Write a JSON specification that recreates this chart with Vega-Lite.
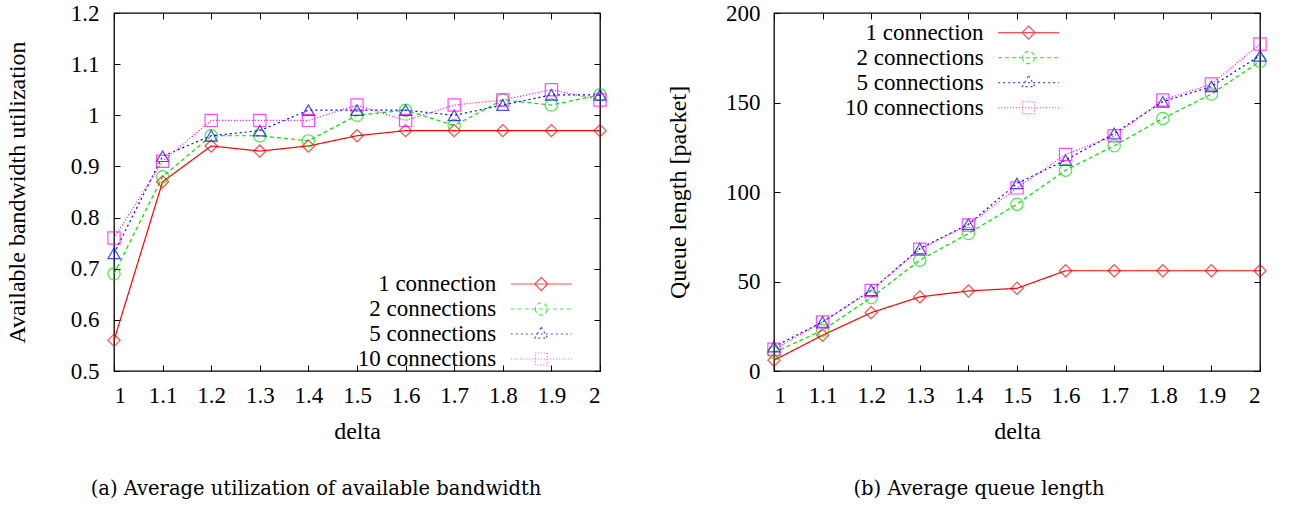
{
  "$schema": "https://vega.github.io/schema/vega-lite/v6.json",
  "background": "white",
  "padding": {"left": 4, "top": 1, "right": 0, "bottom": 0},
  "spacing": 174,
  "bounds": "flush",
  "datasets": {
    "util": [
      {"delta": 1.0, "series": "1 connection", "v": 0.56},
      {"delta": 1.1, "series": "1 connection", "v": 0.87},
      {"delta": 1.2, "series": "1 connection", "v": 0.94},
      {"delta": 1.3, "series": "1 connection", "v": 0.93},
      {"delta": 1.4, "series": "1 connection", "v": 0.94},
      {"delta": 1.5, "series": "1 connection", "v": 0.96},
      {"delta": 1.6, "series": "1 connection", "v": 0.97},
      {"delta": 1.7, "series": "1 connection", "v": 0.97},
      {"delta": 1.8, "series": "1 connection", "v": 0.97},
      {"delta": 1.9, "series": "1 connection", "v": 0.97},
      {"delta": 2.0, "series": "1 connection", "v": 0.97},
      {"delta": 1.0, "series": "2 connections", "v": 0.69},
      {"delta": 1.1, "series": "2 connections", "v": 0.88},
      {"delta": 1.2, "series": "2 connections", "v": 0.96},
      {"delta": 1.3, "series": "2 connections", "v": 0.96},
      {"delta": 1.4, "series": "2 connections", "v": 0.95},
      {"delta": 1.5, "series": "2 connections", "v": 1.00},
      {"delta": 1.6, "series": "2 connections", "v": 1.01},
      {"delta": 1.7, "series": "2 connections", "v": 0.98},
      {"delta": 1.8, "series": "2 connections", "v": 1.03},
      {"delta": 1.9, "series": "2 connections", "v": 1.02},
      {"delta": 2.0, "series": "2 connections", "v": 1.04},
      {"delta": 1.0, "series": "5 connections", "v": 0.73},
      {"delta": 1.1, "series": "5 connections", "v": 0.92},
      {"delta": 1.2, "series": "5 connections", "v": 0.96},
      {"delta": 1.3, "series": "5 connections", "v": 0.97},
      {"delta": 1.4, "series": "5 connections", "v": 1.01},
      {"delta": 1.5, "series": "5 connections", "v": 1.01},
      {"delta": 1.6, "series": "5 connections", "v": 1.01},
      {"delta": 1.7, "series": "5 connections", "v": 1.00},
      {"delta": 1.8, "series": "5 connections", "v": 1.02},
      {"delta": 1.9, "series": "5 connections", "v": 1.04},
      {"delta": 2.0, "series": "5 connections", "v": 1.04},
      {"delta": 1.0, "series": "10 connections", "v": 0.76},
      {"delta": 1.1, "series": "10 connections", "v": 0.91},
      {"delta": 1.2, "series": "10 connections", "v": 0.99},
      {"delta": 1.3, "series": "10 connections", "v": 0.99},
      {"delta": 1.4, "series": "10 connections", "v": 0.99},
      {"delta": 1.5, "series": "10 connections", "v": 1.02},
      {"delta": 1.6, "series": "10 connections", "v": 0.99},
      {"delta": 1.7, "series": "10 connections", "v": 1.02},
      {"delta": 1.8, "series": "10 connections", "v": 1.03},
      {"delta": 1.9, "series": "10 connections", "v": 1.05},
      {"delta": 2.0, "series": "10 connections", "v": 1.03}
    ],
    "queue": [
      {"delta": 1.0, "series": "1 connection", "v": 6},
      {"delta": 1.1, "series": "1 connection", "v": 20},
      {"delta": 1.2, "series": "1 connection", "v": 32.6},
      {"delta": 1.3, "series": "1 connection", "v": 41.4},
      {"delta": 1.4, "series": "1 connection", "v": 44.7},
      {"delta": 1.5, "series": "1 connection", "v": 46.2},
      {"delta": 1.6, "series": "1 connection", "v": 56},
      {"delta": 1.7, "series": "1 connection", "v": 56},
      {"delta": 1.8, "series": "1 connection", "v": 56},
      {"delta": 1.9, "series": "1 connection", "v": 56},
      {"delta": 2.0, "series": "1 connection", "v": 56},
      {"delta": 1.0, "series": "2 connections", "v": 10.3},
      {"delta": 1.1, "series": "2 connections", "v": 22.8},
      {"delta": 1.2, "series": "2 connections", "v": 41},
      {"delta": 1.3, "series": "2 connections", "v": 61.9},
      {"delta": 1.4, "series": "2 connections", "v": 76.8},
      {"delta": 1.5, "series": "2 connections", "v": 93.2},
      {"delta": 1.6, "series": "2 connections", "v": 112.2},
      {"delta": 1.7, "series": "2 connections", "v": 125.8},
      {"delta": 1.8, "series": "2 connections", "v": 141.1},
      {"delta": 1.9, "series": "2 connections", "v": 154.7},
      {"delta": 2.0, "series": "2 connections", "v": 173},
      {"delta": 1.0, "series": "5 connections", "v": 13.6},
      {"delta": 1.1, "series": "5 connections", "v": 27.4},
      {"delta": 1.2, "series": "5 connections", "v": 45.1},
      {"delta": 1.3, "series": "5 connections", "v": 68.4},
      {"delta": 1.4, "series": "5 connections", "v": 82},
      {"delta": 1.5, "series": "5 connections", "v": 104.8},
      {"delta": 1.6, "series": "5 connections", "v": 117.8},
      {"delta": 1.7, "series": "5 connections", "v": 132.7},
      {"delta": 1.8, "series": "5 connections", "v": 150.4},
      {"delta": 1.9, "series": "5 connections", "v": 159},
      {"delta": 2.0, "series": "5 connections", "v": 176.1},
      {"delta": 1.0, "series": "10 connections", "v": 12.1},
      {"delta": 1.1, "series": "10 connections", "v": 27.4},
      {"delta": 1.2, "series": "10 connections", "v": 45},
      {"delta": 1.3, "series": "10 connections", "v": 68},
      {"delta": 1.4, "series": "10 connections", "v": 81.6},
      {"delta": 1.5, "series": "10 connections", "v": 102.3},
      {"delta": 1.6, "series": "10 connections", "v": 121},
      {"delta": 1.7, "series": "10 connections", "v": 131.4},
      {"delta": 1.8, "series": "10 connections", "v": 151.4},
      {"delta": 1.9, "series": "10 connections", "v": 160.3},
      {"delta": 2.0, "series": "10 connections", "v": 182.7}
    ]
  },
  "hconcat": [
    {
      "width": 486,
      "height": 358,
      "data": {"name": "util"},
      "title": {"text": "(a) Average utilization of available bandwidth", "orient": "bottom", "anchor": "middle", "frame": "group", "dx": -41, "font": "DejaVu Serif", "fontSize": 19.5, "fontWeight": "normal", "color": "#000", "offset": 37},
      "layer": [
        {
          "mark": {"type": "line", "strokeWidth": 1.2},
          "encoding": {
            "x": {"field": "delta", "type": "quantitative", "scale": {"domain": [1, 2], "nice": false, "zero": false},
                  "axis": {"orient": "bottom", "values": [1, 1.1, 1.2, 1.3, 1.4, 1.5, 1.6, 1.7, 1.8, 1.9, 2], "format": ".1~f", "title": "delta", "labelPadding": 19, "titlePadding": 12}},
            "y": {"field": "v", "type": "quantitative", "scale": {"domain": [0.5, 1.2], "nice": false, "zero": false},
                  "axis": {"orient": "left", "values": [0.5, 0.6, 0.7, 0.8, 0.9, 1, 1.1, 1.2], "format": ".1~f", "title": "Available bandwidth utilization", "labelPadding": 21, "titlePadding": 41}},
            "color": {"field": "series", "type": "nominal", "scale": {"domain": ["1 connection", "2 connections", "5 connections", "10 connections"], "range": ["#ff0000", "#00e000", "#0000ff", "#ff00ff"]}, "legend": null},
            "strokeDash": {"field": "series", "type": "nominal", "scale": {"domain": ["1 connection", "2 connections", "5 connections", "10 connections"], "range": [[1, 0], [4, 3], [2, 3], [1, 2]]}, "legend": null}
          }
        },
        {
          "mark": {"type": "point", "filled": false, "size": 150, "strokeWidth": 1.2},
          "encoding": {
            "x": {"field": "delta", "type": "quantitative", "axis": {"orient": "top", "values": [1, 1.1, 1.2, 1.3, 1.4, 1.5, 1.6, 1.7, 1.8, 1.9, 2], "labels": false, "title": null}},
            "y": {"field": "v", "type": "quantitative", "axis": {"orient": "right", "values": [0.5, 0.6, 0.7, 0.8, 0.9, 1, 1.1, 1.2], "labels": false, "title": null}},
            "color": {"field": "series", "type": "nominal", "scale": {"domain": ["1 connection", "2 connections", "5 connections", "10 connections"], "range": ["#ff0000", "#00e000", "#0000ff", "#ff00ff"]}, "legend": null},
            "shape": {"field": "series", "type": "nominal", "scale": {"domain": ["1 connection", "2 connections", "5 connections", "10 connections"], "range": ["diamond", "circle", "triangle-up", "square"]}, "legend": null}
          }
        },
        {
          "transform": [{"filter": "datum.v < -1000"}],
          "mark": {"type": "point", "filled": false, "size": 529, "strokeWidth": 1.2, "clip": true},
          "encoding": {
            "x": {"field": "delta", "type": "quantitative", "axis": null},
            "y": {"field": "v", "type": "quantitative", "axis": null},
            "color": {"field": "series", "type": "nominal", "scale": {"domain": ["1 connection", "2 connections", "5 connections", "10 connections"], "range": ["#ff0000", "#00e000", "#0000ff", "#ff00ff"]},
                      "legend": {"orient": "none", "legendX": 414.8, "legendY": 258.5, "title": null, "labelFont": "Liberation Serif", "labelFontSize": 23, "labelColor": "#000", "labelAlign": "right", "labelOffset": -57.5, "labelLimit": 0, "symbolSize": 529, "symbolStrokeWidth": 1.2, "rowPadding": -1.0, "padding": 0}},
            "shape": {"field": "series", "type": "nominal", "scale": {"domain": ["1 connection", "2 connections", "5 connections", "10 connections"], "range": ["M-2.65,0H2.65M-0.57,0L0,-0.57L0.57,0L0,0.57Z", "M-2.65,0H2.65M-0.52,0A0.52,0.52,0,1,0,0.52,0A0.52,0.52,0,1,0,-0.52,0", "M-2.65,0H2.65M0,-0.6L0.55,0.35L-0.55,0.35Z", "M-2.65,0H2.65M-0.52,-0.52H0.52V0.52H-0.52Z"]},
                      "legend": {"orient": "none", "legendX": 414.8, "legendY": 258.5, "title": null, "labelFont": "Liberation Serif", "labelFontSize": 23, "labelColor": "#000", "labelAlign": "right", "labelOffset": -57.5, "labelLimit": 0, "symbolSize": 529, "symbolStrokeWidth": 1.2, "rowPadding": -1.0, "padding": 0}},
            "strokeDash": {"field": "series", "type": "nominal", "scale": {"domain": ["1 connection", "2 connections", "5 connections", "10 connections"], "range": [[1, 0], [4, 3], [2, 3], [1, 2]]},
                      "legend": {"orient": "none", "legendX": 414.8, "legendY": 258.5, "title": null, "labelFont": "Liberation Serif", "labelFontSize": 23, "labelColor": "#000", "labelAlign": "right", "labelOffset": -57.5, "labelLimit": 0, "symbolSize": 529, "symbolStrokeWidth": 1.2, "rowPadding": -1.0, "padding": 0}}
          }
        }
      ],
      "resolve": {
        "scale": {"color": "independent", "shape": "independent", "strokeDash": "independent"},
        "axis": {"x": "independent", "y": "independent"},
        "legend": {"color": "independent", "shape": "independent", "strokeDash": "independent"}
      }
    },
    {
      "width": 486,
      "height": 358,
      "data": {"name": "queue"},
      "title": {"text": "(b) Average queue length", "orient": "bottom", "anchor": "middle", "frame": "group", "dx": -38, "font": "DejaVu Serif", "fontSize": 19.5, "fontWeight": "normal", "color": "#000", "offset": 37},
      "layer": [
        {
          "mark": {"type": "line", "strokeWidth": 1.2},
          "encoding": {
            "x": {"field": "delta", "type": "quantitative", "scale": {"domain": [1, 2], "nice": false, "zero": false},
                  "axis": {"orient": "bottom", "values": [1, 1.1, 1.2, 1.3, 1.4, 1.5, 1.6, 1.7, 1.8, 1.9, 2], "format": ".1~f", "title": "delta", "labelPadding": 19, "titlePadding": 12}},
            "y": {"field": "v", "type": "quantitative", "scale": {"domain": [0, 200], "nice": false, "zero": false},
                  "axis": {"orient": "left", "values": [0, 50, 100, 150, 200], "format": "d", "title": "Queue length [packet]", "labelPadding": 20, "titlePadding": 35}},
            "color": {"field": "series", "type": "nominal", "scale": {"domain": ["1 connection", "2 connections", "5 connections", "10 connections"], "range": ["#ff0000", "#00e000", "#0000ff", "#ff00ff"]}, "legend": null},
            "strokeDash": {"field": "series", "type": "nominal", "scale": {"domain": ["1 connection", "2 connections", "5 connections", "10 connections"], "range": [[1, 0], [4, 3], [2, 3], [1, 2]]}, "legend": null}
          }
        },
        {
          "mark": {"type": "point", "filled": false, "size": 150, "strokeWidth": 1.2},
          "encoding": {
            "x": {"field": "delta", "type": "quantitative", "axis": {"orient": "top", "values": [1, 1.1, 1.2, 1.3, 1.4, 1.5, 1.6, 1.7, 1.8, 1.9, 2], "labels": false, "title": null}},
            "y": {"field": "v", "type": "quantitative", "axis": {"orient": "right", "values": [0, 50, 100, 150, 200], "labels": false, "title": null}},
            "color": {"field": "series", "type": "nominal", "scale": {"domain": ["1 connection", "2 connections", "5 connections", "10 connections"], "range": ["#ff0000", "#00e000", "#0000ff", "#ff00ff"]}, "legend": null},
            "shape": {"field": "series", "type": "nominal", "scale": {"domain": ["1 connection", "2 connections", "5 connections", "10 connections"], "range": ["diamond", "circle", "triangle-up", "square"]}, "legend": null}
          }
        },
        {
          "transform": [{"filter": "datum.v < -1000"}],
          "mark": {"type": "point", "filled": false, "size": 529, "strokeWidth": 1.2, "clip": true},
          "encoding": {
            "x": {"field": "delta", "type": "quantitative", "axis": null},
            "y": {"field": "v", "type": "quantitative", "axis": null},
            "color": {"field": "series", "type": "nominal", "scale": {"domain": ["1 connection", "2 connections", "5 connections", "10 connections"], "range": ["#ff0000", "#00e000", "#0000ff", "#ff00ff"]},
                      "legend": {"orient": "none", "legendX": 242.1, "legendY": 7.1, "title": null, "labelFont": "Liberation Serif", "labelFontSize": 23, "labelColor": "#000", "labelAlign": "right", "labelOffset": -57.5, "labelLimit": 0, "symbolSize": 529, "symbolStrokeWidth": 1.2, "rowPadding": -0.6, "padding": 0}},
            "shape": {"field": "series", "type": "nominal", "scale": {"domain": ["1 connection", "2 connections", "5 connections", "10 connections"], "range": ["M-2.65,0H2.65M-0.57,0L0,-0.57L0.57,0L0,0.57Z", "M-2.65,0H2.65M-0.52,0A0.52,0.52,0,1,0,0.52,0A0.52,0.52,0,1,0,-0.52,0", "M-2.65,0H2.65M0,-0.6L0.55,0.35L-0.55,0.35Z", "M-2.65,0H2.65M-0.52,-0.52H0.52V0.52H-0.52Z"]},
                      "legend": {"orient": "none", "legendX": 242.1, "legendY": 7.1, "title": null, "labelFont": "Liberation Serif", "labelFontSize": 23, "labelColor": "#000", "labelAlign": "right", "labelOffset": -57.5, "labelLimit": 0, "symbolSize": 529, "symbolStrokeWidth": 1.2, "rowPadding": -0.6, "padding": 0}},
            "strokeDash": {"field": "series", "type": "nominal", "scale": {"domain": ["1 connection", "2 connections", "5 connections", "10 connections"], "range": [[1, 0], [4, 3], [2, 3], [1, 2]]},
                      "legend": {"orient": "none", "legendX": 242.1, "legendY": 7.1, "title": null, "labelFont": "Liberation Serif", "labelFontSize": 23, "labelColor": "#000", "labelAlign": "right", "labelOffset": -57.5, "labelLimit": 0, "symbolSize": 529, "symbolStrokeWidth": 1.2, "rowPadding": -0.6, "padding": 0}}
          }
        }
      ],
      "resolve": {
        "scale": {"color": "independent", "shape": "independent", "strokeDash": "independent"},
        "axis": {"x": "independent", "y": "independent"},
        "legend": {"color": "independent", "shape": "independent", "strokeDash": "independent"}
      }
    }
  ],
  "resolve": {
    "scale": {"color": "independent", "shape": "independent", "strokeDash": "independent"},
    "legend": {"color": "independent", "shape": "independent", "strokeDash": "independent"}
  },
  "config": {
    "view": {"stroke": "#000", "strokeWidth": 1.3},
    "axis": {
      "labelFont": "Liberation Serif", "labelFontSize": 23, "labelColor": "#000",
      "titleFont": "Liberation Serif", "titleFontSize": 24, "titleFontWeight": "normal", "titleColor": "#000",
      "tickColor": "#000", "tickSize": -6, "tickWidth": 1, "domain": false, "grid": false
    }
  }
}
